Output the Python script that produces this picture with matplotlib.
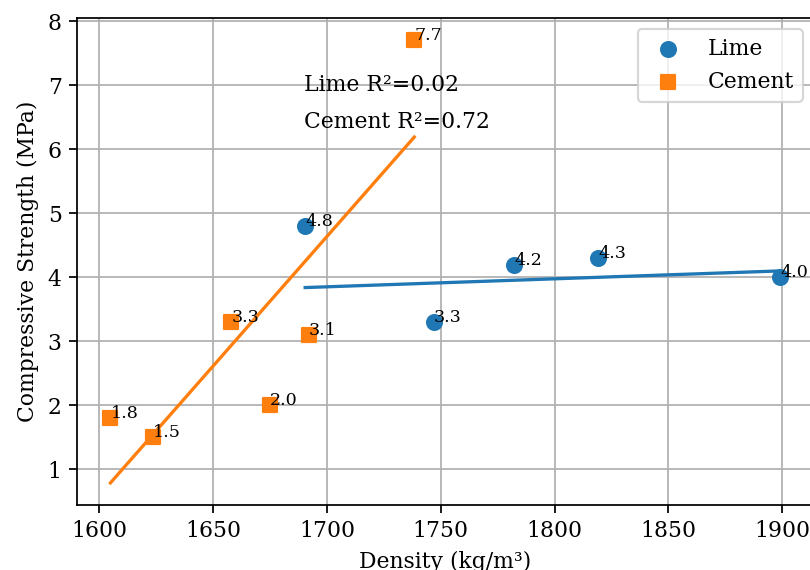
import matplotlib
matplotlib.use("Agg")
import matplotlib.pyplot as plt

plt.rcParams['font.family'] = ['DejaVu Serif']

# Data
lime_density = [1690.5, 1747, 1782.3, 1819.2, 1899]
lime_strength = [4.8, 3.3, 4.2, 4.3, 4.0]
cement_density = [1605, 1623.7, 1658, 1675, 1692, 1738.4]
cement_strength = [1.8, 1.5, 3.3, 2.0, 3.1, 7.7]

# Trend lines (values at the min / max density of each series)
lime_fit_y = [3.84, 4.10]
cement_fit_y = [0.79, 6.19]
lime_r2 = 0.02
cement_r2 = 0.72

DPI = 157.5
fig = plt.figure(figsize=(810 / DPI, 570 / DPI), dpi=DPI)
ax = fig.add_axes([0.095, 0.114, 0.9094, 0.854])

ax.grid(True, color='#b0b0b0', linewidth=0.8)
ax.set_axisbelow(True)

ax.scatter(lime_density, lime_strength, s=46, marker='o', color='#1f77b4', label='Lime', zorder=3)
ax.scatter(cement_density, cement_strength, s=46, marker='s', color='#ff7f0e', label='Cement', zorder=3)

ax.plot([min(lime_density), max(lime_density)], lime_fit_y, color='#1f77b4', lw=1.5, zorder=2)
ax.plot([min(cement_density), max(cement_density)], cement_fit_y, color='#ff7f0e', lw=1.5, zorder=2)

for x, y in zip(lime_density, lime_strength):
    ax.text(x, y, f"{y:.1f}", fontsize=8, zorder=4)
for x, y in zip(cement_density, cement_strength):
    ax.text(x, y, f"{y:.1f}", fontsize=8, zorder=4)

ax.text(1690, 7.0, f"Lime R²={lime_r2:.2f}", fontsize=10, va='center', ha='left')
ax.text(1690, 6.42, f"Cement R²={cement_r2:.2f}", fontsize=10, va='center', ha='left')

ax.set_xlabel("Density (kg/m³)", fontsize=10)
ax.set_ylabel("Compressive Strength (MPa)", fontsize=10)
ax.tick_params(labelsize=10)

ax.legend(loc='upper right', fontsize=10)

fig.savefig("out.png", dpi=DPI)
